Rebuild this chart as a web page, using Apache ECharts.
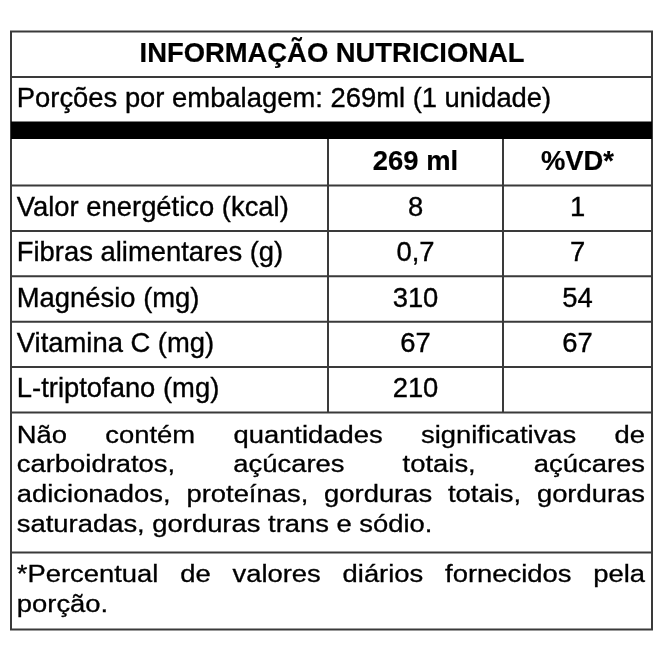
<!DOCTYPE html>
<html>
<head>
<meta charset="utf-8">
<script src="https://cdn.jsdelivr.net/npm/echarts@6/dist/echarts.min.js"></script>
<style>
html,body{margin:0;padding:0;background:#fff;}
#c{width:660px;height:660px;}
</style>
</head>
<body>
<div id="c"></div>
<script>
// ---------- data ----------
const titleText = 'INFORMAÇÃO NUTRICIONAL';
const servingText = 'Porções por embalagem: 269ml (1 unidade)';
const columnHeaders = ['269 ml', '%VD*'];
const nutrients = ['Valor energético (kcal)', 'Fibras alimentares (g)', 'Magnésio (mg)', 'Vitamina C (mg)', 'L-triptofano (mg)'];
const amounts = ['8', '0,7', '310', '67', '210'];
const dailyValues = ['1', '7', '54', '67', ''];
const noteLines = [
  'Não contém quantidades significativas de',
  'carboidratos, açúcares totais, açúcares',
  'adicionados, proteínas, gorduras totais, gorduras',
  'saturadas, gorduras trans e sódio.'
];
const noteJustified = [true, true, true, false];
const footnoteLines = ['*Percentual de valores diários fornecidos pela', 'porção.'];
const footnoteJustified = [true, false];

// ---------- layout ----------
const L = {
  left: 11, right: 652, col1: 328, col2: 503,
  top: 31.5, titleBottom: 77, servingBottom: 121.5, barBottom: 139,
  headerBottom: 185.5, rowH: 45.4, noteBottom: 552.5, bottom: 629.5,
  padL: 16.8, padR: 645,
  noteY0: 436.3, noteStep: 29.7, footY0: 575.3, footStep: 30
};
const FS = 27.4;
const FAMILY = '"Liberation Sans", Arial, Helvetica, sans-serif';
const LINE = '#3a3a3a';
const LW = 2;
const TXT = '#000';
const SQUASH = 0.86;
const rowsBottom = L.headerBottom + L.rowH * nutrients.length;

const mctx = document.createElement('canvas').getContext('2d');
function textWidth(t, weight) {
  mctx.font = (weight || 'normal') + ' ' + FS + 'px ' + FAMILY;
  return mctx.measureText(t).width;
}

function P(api, x, y) { return api.coord([x, y]); }
function hLine(api, x1, x2, y) {
  const a = P(api, x1, y), b = P(api, x2, y);
  return { type: 'line', shape: { x1: a[0], y1: a[1], x2: b[0], y2: b[1] }, style: { stroke: LINE, lineWidth: LW } };
}
function vLine(api, x, y1, y2) {
  const a = P(api, x, y1), b = P(api, x, y2);
  return { type: 'line', shape: { x1: a[0], y1: a[1], x2: b[0], y2: b[1] }, style: { stroke: LINE, lineWidth: LW } };
}
function txt(api, x, y, text, align, weight, scaleY) {
  const p = P(api, x, y);
  return {
    type: 'text', x: p[0], y: p[1], scaleY: scaleY || 1,
    style: {
      text: text, fill: TXT, fontSize: FS, fontFamily: FAMILY, fontWeight: weight || 'normal',
      align: align, verticalAlign: 'middle',
      stroke: TXT, lineWidth: weight === 'bold' ? 0.2 : 0.35
    }
  };
}
function justified(api, text, yMid, justify) {
  const children = [];
  if (!justify) {
    children.push(txt(api, L.padL, yMid, text, 'left', 'normal', SQUASH));
  } else {
    const words = text.split(' ');
    const widths = words.map(w => textWidth(w));
    const total = widths.reduce((a, b) => a + b, 0);
    const gap = (L.padR - L.padL - total) / (words.length - 1);
    let x = L.padL;
    words.forEach((w, i) => {
      children.push(txt(api, x, yMid, w, 'left', 'normal', SQUASH));
      x += widths[i] + gap;
    });
  }
  return { type: 'group', children: children };
}

const base = {
  type: 'custom', silent: true, animation: false, clip: false,
  xAxisIndex: 0, yAxisIndex: 0
};

const option = {
  animation: false,
  backgroundColor: '#fff',
  grid: { left: 0, right: 0, top: 0, bottom: 0 },
  xAxis: { type: 'value', min: 0, max: 660, show: false },
  yAxis: { type: 'value', min: 0, max: 660, inverse: true, show: false },
  series: [
    Object.assign({}, base, {
      name: 'frame', data: [[0, 0]],
      renderItem: function (params, api) {
        const tl = P(api, L.left, L.top), br = P(api, L.right, L.bottom);
        const bar1 = P(api, L.left, L.servingBottom), bar2 = P(api, L.right, L.barBottom);
        return {
          type: 'group', children: [
            { type: 'rect', shape: { x: tl[0], y: tl[1], width: br[0] - tl[0], height: br[1] - tl[1] }, style: { fill: 'none', stroke: LINE, lineWidth: LW } },
            hLine(api, L.left, L.right, L.titleBottom),
            { type: 'rect', shape: { x: bar1[0], y: bar1[1], width: bar2[0] - bar1[0], height: bar2[1] - bar1[1] }, style: { fill: '#000' } },
            hLine(api, L.left, L.right, L.headerBottom),
            hLine(api, L.left, L.right, L.noteBottom),
            vLine(api, L.col1, L.barBottom, rowsBottom),
            vLine(api, L.col2, L.barBottom, rowsBottom)
          ]
        };
      }
    }),
    Object.assign({}, base, {
      name: 'title', data: [[0, 0]],
      renderItem: function (params, api) {
        return txt(api, (L.left + L.right) / 2 + 0.5, (L.top + L.titleBottom) / 2 + 0.5, titleText, 'center', 'bold');
      }
    }),
    Object.assign({}, base, {
      name: 'serving', data: [[0, 0]],
      renderItem: function (params, api) {
        return txt(api, L.padL, (L.titleBottom + L.servingBottom) / 2, servingText, 'left');
      }
    }),
    Object.assign({}, base, {
      name: 'headers', data: columnHeaders.map((h, i) => [i, 0]),
      renderItem: function (params, api) {
        const i = params.dataIndex;
        const cx = i === 0 ? (L.col1 + L.col2) / 2 : (L.col2 + L.right) / 2;
        return txt(api, cx, (L.barBottom + L.headerBottom) / 2 + 0.5, columnHeaders[i], 'center', 'bold');
      }
    }),
    Object.assign({}, base, {
      name: 'rows', data: nutrients.map((n, i) => [i, 0]),
      renderItem: function (params, api) {
        const i = params.dataIndex;
        const y0 = L.headerBottom + L.rowH * i;
        const yb = y0 + L.rowH;
        const ym = (y0 + yb) / 2;
        return {
          type: 'group', children: [
            hLine(api, L.left, L.right, yb),
            txt(api, L.padL, ym, nutrients[i], 'left'),
            txt(api, (L.col1 + L.col2) / 2, ym, amounts[i], 'center'),
            txt(api, (L.col2 + L.right) / 2, ym, dailyValues[i], 'center')
          ]
        };
      }
    }),
    Object.assign({}, base, {
      name: 'note', data: noteLines.map((n, i) => [i, 0]),
      renderItem: function (params, api) {
        const i = params.dataIndex;
        return justified(api, noteLines[i], L.noteY0 + L.noteStep * i, noteJustified[i]);
      }
    }),
    Object.assign({}, base, {
      name: 'footnote', data: footnoteLines.map((n, i) => [i, 0]),
      renderItem: function (params, api) {
        const i = params.dataIndex;
        return justified(api, footnoteLines[i], L.footY0 + L.footStep * i, footnoteJustified[i]);
      }
    })
  ]
};

const chart = echarts.init(document.getElementById('c'), null, { renderer: 'canvas' });
chart.setOption(option);
</script>
</body>
</html>
